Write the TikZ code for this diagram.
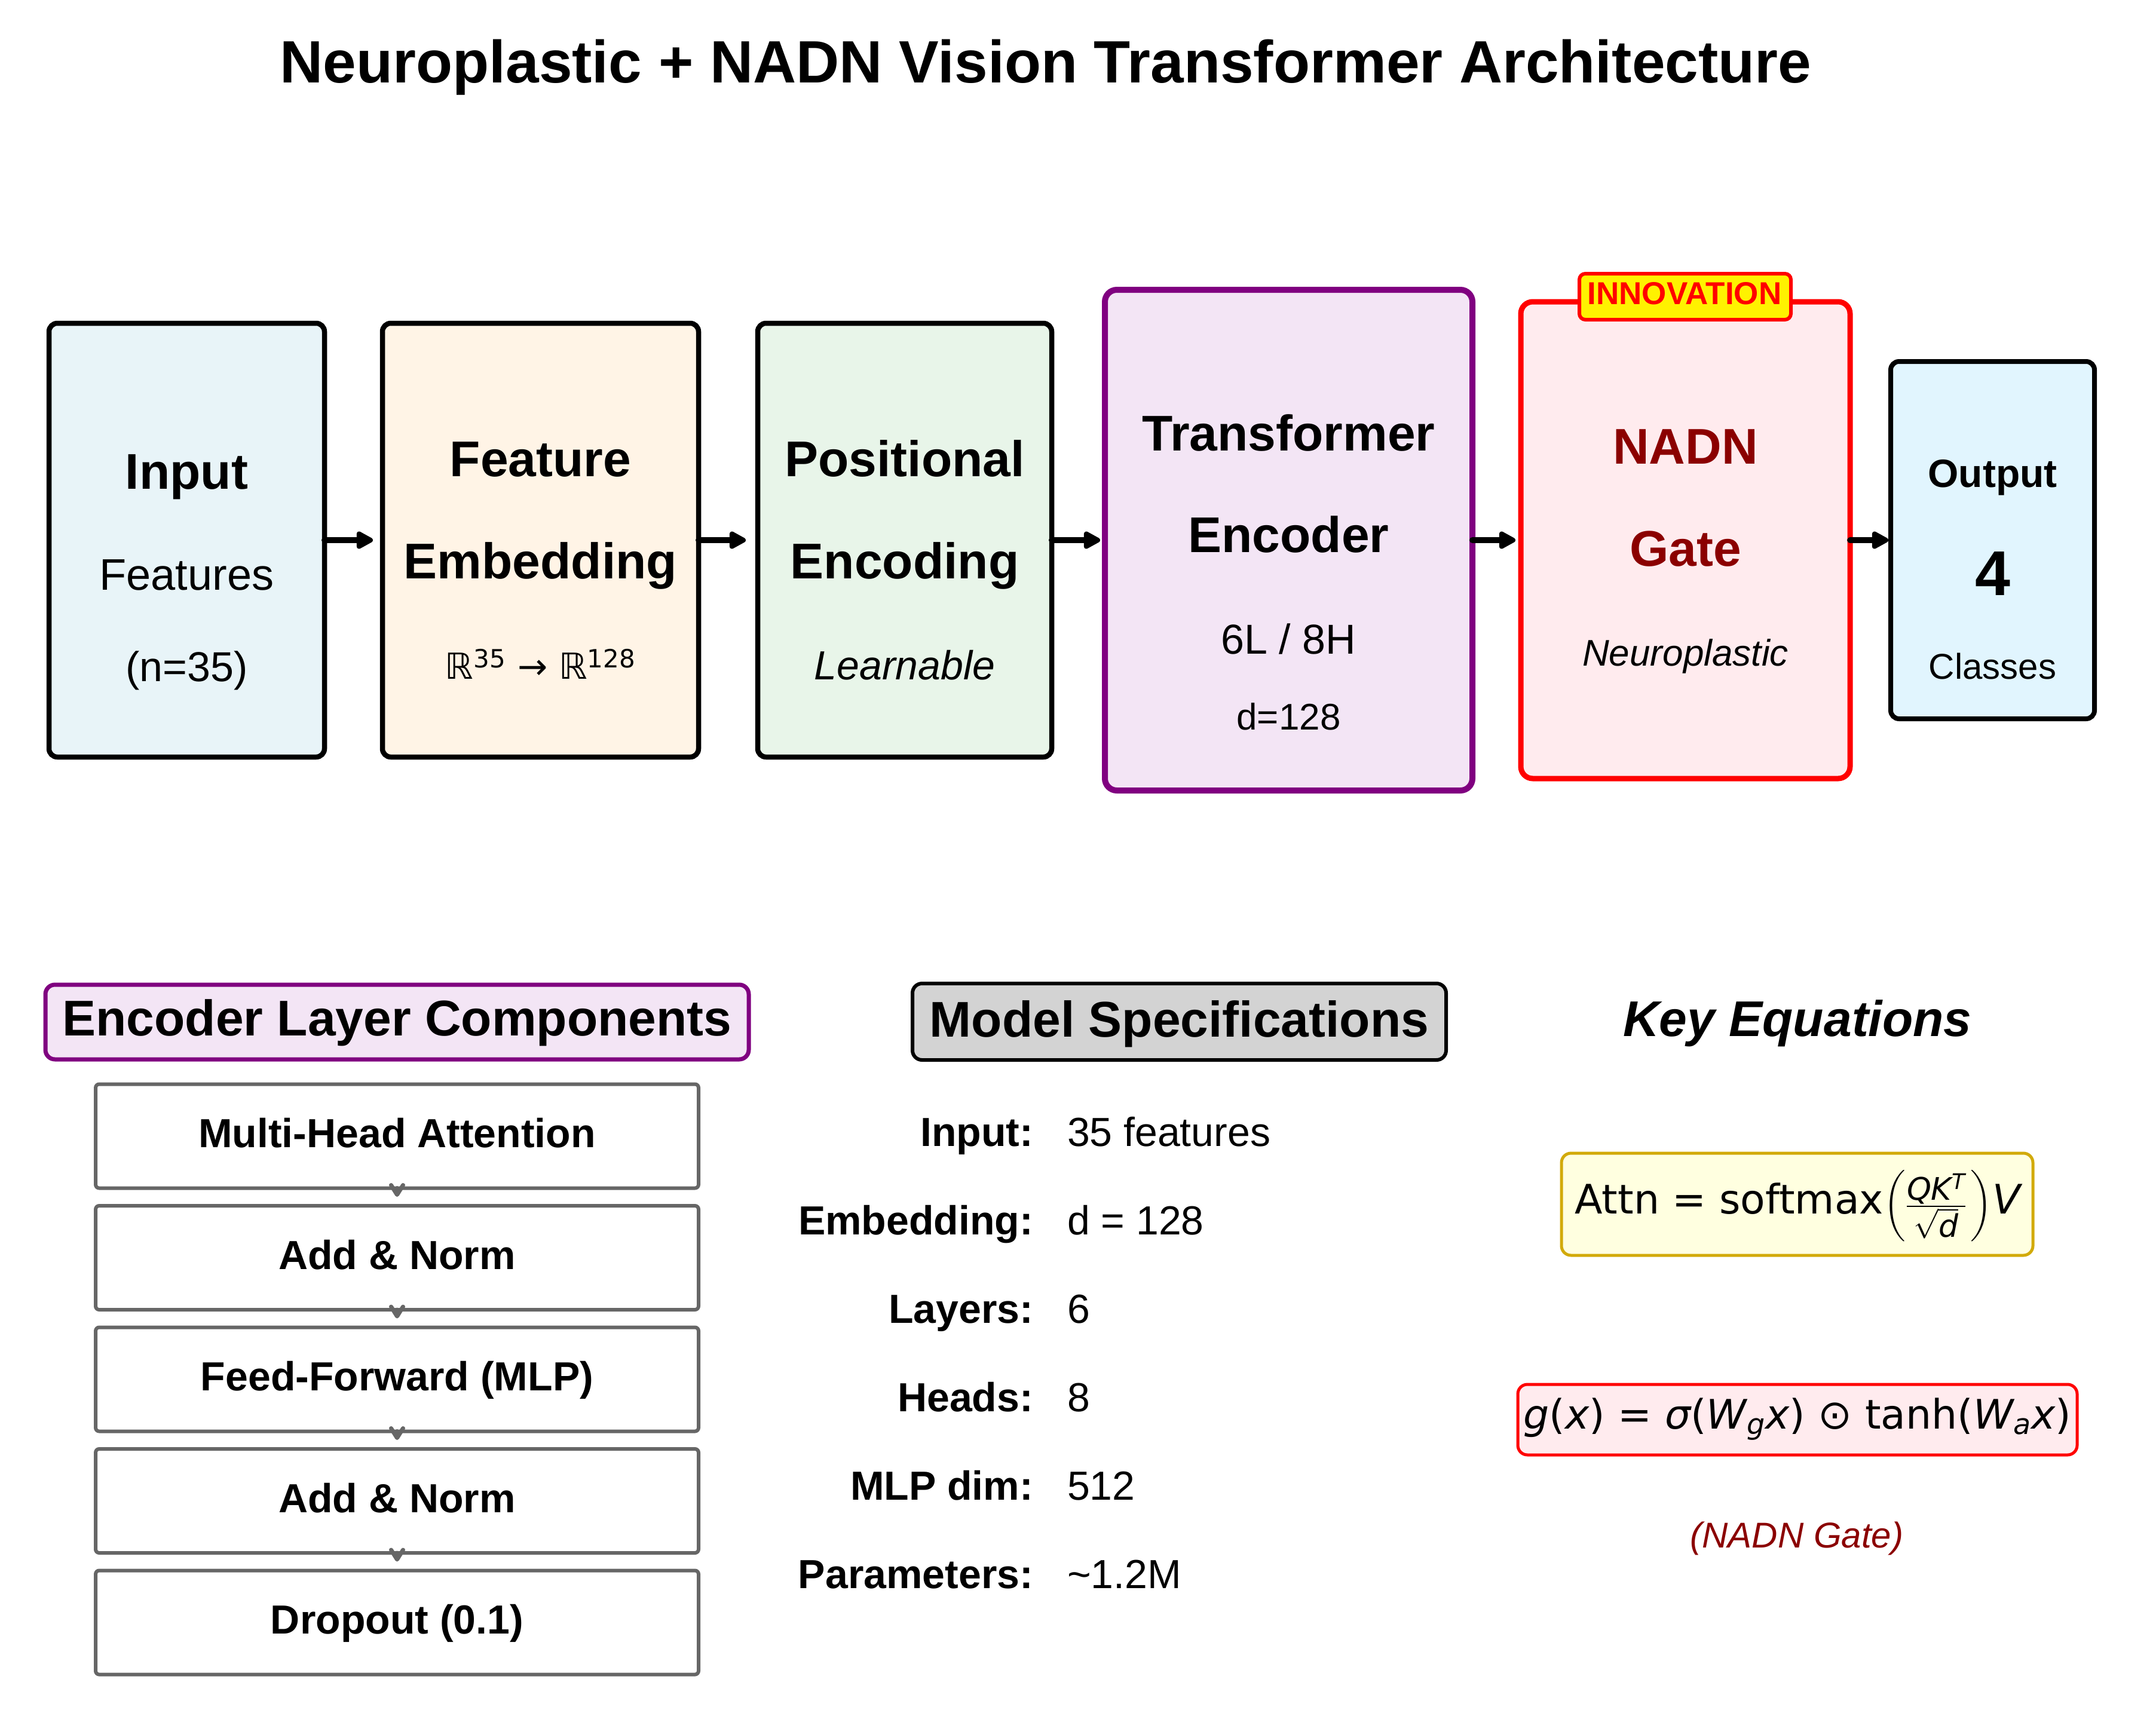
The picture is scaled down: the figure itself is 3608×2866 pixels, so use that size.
\documentclass[tikz,border=0pt]{standalone}
\usepackage{amsmath}
\usepackage{fontspec}
\setmainfont{Liberation Sans}
\newfontfamily\dejavu{DejaVu Sans}
\usetikzlibrary{arrows.meta}
\definecolor{inblue}{RGB}{232,244,248}
\definecolor{embfill}{RGB}{255,244,230}
\definecolor{posfill}{RGB}{232,245,233}
\definecolor{tffill}{RGB}{243,229,245}
\definecolor{purp}{RGB}{128,0,128}
\definecolor{nadnfill}{RGB}{255,235,238}
\definecolor{outfill}{RGB}{225,245,254}
\definecolor{dred}{RGB}{139,0,0}
\definecolor{goldline}{RGB}{210,170,10}
\definecolor{lyellow}{RGB}{255,255,224}
\definecolor{gsix}{RGB}{102,102,102}
\definecolor{specgray}{RGB}{211,211,211}
\newcommand{\fsz}[1]{\fontsize{#1}{#1}\selectfont}
\begin{document}
\begin{tikzpicture}[x=0.5pt,y=-0.5pt,
  every node/.style={inner sep=0pt,outer sep=0pt},
  mainbox/.style={draw=black,line width=4.25pt,rounded corners=7pt},
  lbl/.style={anchor=base},
  flow/.style={line width=5pt,line cap=round,-{Triangle[length=16pt,width=16pt,round]}},
  ebox/.style={draw=gsix,line width=3pt,rounded corners=3pt,fill=white,minimum width=504.5pt,minimum height=87pt},
  earrow/.style={draw=gsix,line width=3.5pt,line cap=round,-{Straight Barb[length=8pt,width=10pt,round]}},
  specl/.style={anchor=base east,font=\bfseries\fsz{34}},
  specv/.style={anchor=base west,font=\fsz{34}}
]
\useasboundingbox[fill=white] (0,0) rectangle (3608,2866);

% title
\node[lbl,font=\bfseries\fsz{50}] (title) at (1750,138) {Neuroplastic + NADN Vision Transformer Architecture};

% top boxes
\node[mainbox,fill=inblue,minimum width=230.5pt,minimum height=363pt] (inp) at (312.5,904) {};
\node[mainbox,fill=embfill,minimum width=264.5pt,minimum height=363pt] (emb) at (904.5,904) {};
\node[mainbox,fill=posfill,minimum width=246pt,minimum height=363pt] (pos) at (1514,904) {};
\node[draw=purp,line width=5pt,rounded corners=10pt,fill=tffill,minimum width=307.5pt,minimum height=419pt] (tf) at (2156.5,904) {};
\node[draw=red,line width=4.5pt,rounded corners=10pt,fill=nadnfill,minimum width=275.5pt,minimum height=399pt] (nadn) at (2820.5,904) {};
\node[mainbox,line width=4pt,fill=outfill,minimum width=170.5pt,minimum height=299pt] (out) at (3334.5,904) {};

% badge
\node[draw=red,line width=3pt,fill=yellow,rounded corners=5pt,minimum width=177pt,minimum height=38.5pt] (badge) at (2820,496.5) {};
\node[lbl,font=\bfseries\fsz{26.5},text=red] (badgeT) at (2819,509) {INNOVATION};

% flow arrows
\draw[flow,shorten >=8pt] (inp.east) -- (emb.west);
\draw[flow,shorten >=10pt] (emb.east) -- (pos.west);
\draw[flow,shorten >=4pt] (pos.east) -- (tf.west);
\draw[flow,shorten >=4.5pt] (tf.east) -- (nadn.west);
\draw[flow,shorten >=2pt] (nadn.east) -- (out.west);

% texts in top boxes
\node[lbl,font=\bfseries\fsz{42}] (inpA) at (312.5,818) {Input};
\node[lbl,font=\fsz{37}] (inpB) at (312.5,987) {Features};
\node[lbl,font=\fsz{35}] (inpC) at (312.5,1140) {(n=35)};

\node[lbl,font=\bfseries\fsz{42}] (embA) at (904.5,797) {Feature};
\node[lbl,font=\bfseries\fsz{42}] (embB) at (904.5,968) {Embedding};
\node[lbl,font=\dejavu\fsz{30}] (embC) at (904.5,1136) {ℝ$^{\text{35}}$ → ℝ$^{\text{128}}$};

\node[lbl,font=\bfseries\fsz{42}] (posA) at (1514,797) {Positional};
\node[lbl,font=\bfseries\fsz{42}] (posB) at (1514,968) {Encoding};
\node[lbl,font=\itshape\fsz{34}] (posC) at (1514,1137) {Learnable};

\node[lbl,font=\bfseries\fsz{42}] (tfA) at (2156.5,754) {Transformer};
\node[lbl,font=\bfseries\fsz{42}] (tfB) at (2156.5,924) {Encoder};
\node[lbl,font=\fsz{35}] (tfC) at (2156.5,1094) {6L / 8H};
\node[lbl,font=\fsz{31}] (tfD) at (2156.5,1221) {d=128};

\node[lbl,font=\bfseries\fsz{42},text=dred] (nadnA) at (2820.5,776) {NADN};
\node[lbl,font=\bfseries\fsz{42},text=dred] (nadnB) at (2820.5,947) {Gate};
\node[lbl,font=\itshape\fsz{31}] (nadnC) at (2820.5,1114) {Neuroplastic};

\node[lbl,font=\bfseries\fsz{33}] (outA) at (3334.5,815) {Output};
\node[lbl,font=\bfseries\fsz{53}] (outB) at (3334.5,996) {4};
\node[lbl,font=\fsz{30}] (outC) at (3334.5,1136) {Classes};

% encoder layer components
\node[draw=purp,line width=3.5pt,fill=tffill,rounded corners=8pt,minimum width=588.5pt,minimum height=62.5pt] (ehead) at (664.5,1710.5) {};
\node[lbl,font=\bfseries\fsz{42}] (eheadT) at (664.5,1733) {Encoder Layer Components};

\node[ebox] (e1) at (664.5,1901.5) {};
\node[ebox] (e2) at (664.5,2105) {};
\node[ebox] (e3) at (664.5,2308.5) {};
\node[ebox] (e4) at (664.5,2512) {};
\node[ebox] (e5) at (664.5,2715.5) {};
\node[lbl,font=\bfseries\fsz{34}] (e1T) at (664.5,1920.5) {Multi-Head Attention};
\node[lbl,font=\bfseries\fsz{34}] (e2T) at (664.5,2124) {Add \& Norm};
\node[lbl,font=\bfseries\fsz{34}] (e3T) at (664.5,2327.5) {Feed-Forward (MLP)};
\node[lbl,font=\bfseries\fsz{34}] (e4T) at (664.5,2531) {Add \& Norm};
\node[lbl,font=\bfseries\fsz{34}] (e5T) at (664.5,2734.5) {Dropout (0.1)};
\draw[earrow,shorten >=7.5pt] (e1.south) -- (e2.north);
\draw[earrow,shorten >=7.5pt] (e2.south) -- (e3.north);
\draw[earrow,shorten >=7.5pt] (e3.south) -- (e4.north);
\draw[earrow,shorten >=7.5pt] (e4.south) -- (e5.north);

% model specifications
\node[draw=black,line width=3pt,fill=specgray,rounded corners=8pt,minimum width=446.5pt,minimum height=64pt] (shead) at (1973.5,1710) {};
\node[lbl,font=\bfseries\fsz{42}] (sheadT) at (1973.5,1735) {Model Specifications};
\node[specl] (s1l) at (1729,1918) {Input:};
\node[specv] (s1v) at (1786,1918) {35 features};
\node[specl] (s2l) at (1729,2066) {Embedding:};
\node[specv] (s2v) at (1786,2066) {d = 128};
\node[specl] (s3l) at (1729,2214) {Layers:};
\node[specv] (s3v) at (1786,2214) {6};
\node[specl] (s4l) at (1729,2362) {Heads:};
\node[specv] (s4v) at (1786,2362) {8};
\node[specl] (s5l) at (1729,2510) {MLP dim:};
\node[specv] (s5v) at (1786,2510) {512};
\node[specl] (s6l) at (1729,2658) {Parameters:};
\node[specv] (s6v) at (1786,2658) {\char"007E 1.2M};

% key equations
\node[lbl,font=\bfseries\itshape\fsz{42}] (keq) at (3008,1734) {Key Equations};
\node[draw=goldline,line width=2.5pt,fill=lyellow,rounded corners=8pt,minimum width=394.5pt,minimum height=85.5pt] (attnbox) at (3007.5,2015.5) {};
\node[lbl,font=\dejavu\fsz{34}] (attnT) at (3008,2031) {Attn = softmax$\left(\frac{\text{\fsz{26}\itshape QK$^{\text{\fsz{18}\itshape T}}$}}{\sqrt{\text{\fsz{26}\itshape d}}}\kern3pt\right)${\itshape V}};
\node[draw=red,line width=2.5pt,fill=nadnfill,rounded corners=8pt,minimum width=468pt,minimum height=59pt] (gbox) at (3008,2376) {};
\node[lbl,font=\dejavu\fsz{34}] (gT) at (3008,2391) {{\itshape g}({\itshape x}) = {\itshape σ}({\itshape W}$_{\text{\itshape g}}${\itshape x}) ⊙ tanh({\itshape W}$_{\text{\itshape a}}${\itshape x})};
\node[lbl,font=\itshape\fsz{30},text=dred] (gnote) at (3007,2590) {(NADN Gate)};
\end{tikzpicture}
\end{document}
